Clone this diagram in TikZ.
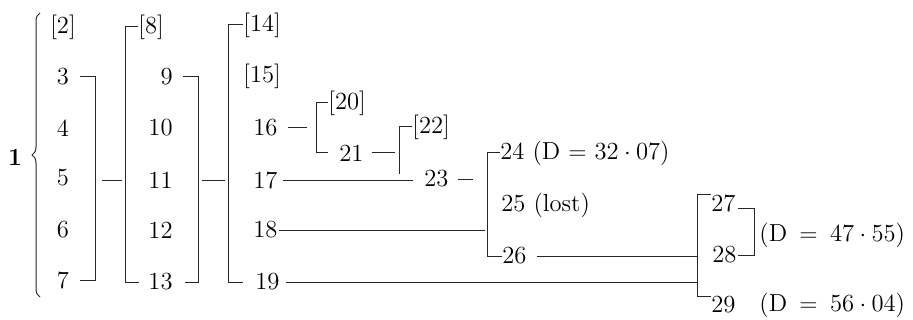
\documentclass[tikz,border=0pt]{standalone}
\usetikzlibrary{calc,decorations.pathreplacing}

\begin{document}
\begin{tikzpicture}[x=0.5pt, y=-0.5pt,
  num/.style={inner sep=0pt, font=\fontsize{12.3}{14}\selectfont},
  link/.style={line width=0.5pt, draw=black!85},
]
\useasboundingbox (0,0) rectangle (913,320);

% Root and its brace
\node[num] (n1) at (15,157) {\textbf{1}};
\draw[link, decorate, decoration={brace, amplitude=4pt}] (40,297) -- (40,13);

% First column
\node[num] (n2) at (63,27) {[2]};
\node[num] (n3) at (63,77) {3};
\node[num] (n4) at (63,128) {4};
\node[num] (n5) at (63,178) {5};
\node[num] (n6) at (63,230) {6};
\node[num] (n7) at (63,280) {7};

% Second column
\node[num, anchor=west] (n8) at (138,27) {[8]};
\node[num, anchor=east] (n9) at (173,77) {9};
\node[num, anchor=east] (n10) at (173,128) {10};
\node[num, anchor=east] (n11) at (173,180) {11};
\node[num, anchor=east] (n12) at (173,230) {12};
\node[num, anchor=east] (n13) at (173,282) {13};

% Third column
\node[num, anchor=west] (n14) at (243,25) {[14]};
\node[num, anchor=west] (n15) at (243,76) {[15]};
\node[num, anchor=west] (n16) at (253,128) {16};
\node[num, anchor=west] (n17) at (253,180) {17};
\node[num, anchor=west] (n18) at (253,230) {18};
\node[num, anchor=west] (n19) at (255,282) {19};

% Later branches
\node[num, anchor=west] (n20) at (328,103) {[20]};
\node[num, anchor=west] (n21) at (339,153) {21};
\node[num, anchor=west] (n22) at (412,127) {[22]};
\node[num, anchor=west] (n23) at (424,179) {23};
\node[num, anchor=west] (n24) at (500,153) {24 (D $=$ 32${}\cdot{}$07)};
\node[num, anchor=west] (n25) at (501,205) {25 (lost)};
\node[num, anchor=west] (n26) at (502,256) {26};
\node[num, anchor=west] (n27) at (711,203) {27};
\node[num, anchor=west] (n28) at (712,255) {28};
\node[num, anchor=west] (n29) at (711,305) {29};
\node[num, anchor=west] (d28) at (759,235) {(D\hspace{0.5em}$=$\hspace{0.5em}47${}\cdot{}$55)};
\node[num, anchor=west] (d29) at (759,305) {(D\hspace{0.5em}$=$\hspace{0.5em}56${}\cdot{}$04)};

% Spines
\coordinate (sa) at (95,0);
\coordinate (sb) at (125,0);
\coordinate (sc) at (198,0);
\coordinate (sd) at (228,0);
\coordinate (se) at (316,0);
\coordinate (sf) at (399,0);
\coordinate (sg) at (487,0);
\coordinate (sh) at (697,0);
\coordinate (si) at (754,0);

% Brackets
\draw[link] ($(n3.east)+(11,0)$) -| (sa |- n7) -- ($(n7.east)+(11,0)$);
\draw[link] (n8.west) -| (sb |- n13) -- ($(n13.west)+(-9,0)$);
\draw[link] ($(n9.east)+(10,0)$) -| (sc |- n13) -- ($(n13.east)+(11.5,0)$);
\draw[link] (n14.west) -| (sd |- n19) -- ($(n19.west)+(-12,0)$);
\draw[link] (n20.west) -| (se |- n21) -- ($(n21.west)+(-11,0)$);
\draw[link] (n22.west) -| ($(sf |- n23)+(0,-5)$);
\draw[link] (n24.west) -| (sg |- n26) -- (n26.west);
\draw[link] (n27.north west) -| (sh |- n29.north) -- (n29.north west);
\draw[link] ($(n27.east)+(2,5)$) -| (si |- n28) -- ($(n28.east)+(1,0)$);

% Links between groups
\draw[link] ($(sa |- n11)+(7,0)$) -- ($(sb |- n11)+(-3,0)$);
\draw[link] ($(sc |- n11)+(4,0)$) -- ($(sd |- n11)+(-3,0)$);
\draw[link] ($(n16.east)+(10,0)$) -- ($(se |- n16)+(-9,0)$);
\draw[link] ($(n21.east)+(8,0)$) -- ($(sf |- n21)+(-4,0)$);
\draw[link] ($(n17.east)+(5,0)$) -- ($(n23.west |- n17)+(-11,0)$);
\draw[link] ($(n23.east)+(9,0)$) -- ($(sg |- n23)+(-14,0)$);
\draw[link] ($(n18.east)+(1,0)$) -- ($(sg |- n18)+(-2,0)$);
\draw[link] ($(n26.east)+(10,0)$) -- (sh |- n26);
\draw[link] ($(n19.east)+(6,0)$) -- (sh |- n19);

\end{tikzpicture}
\end{document}
